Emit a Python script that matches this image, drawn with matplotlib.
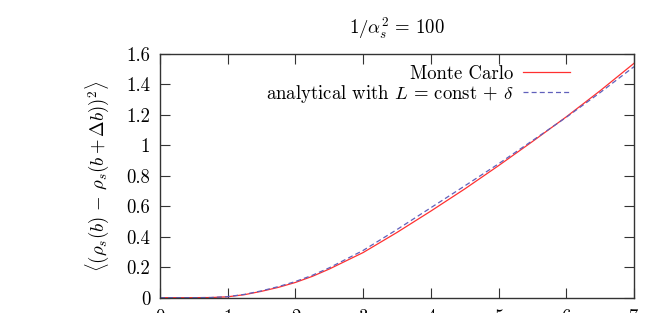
import matplotlib
matplotlib.use("Agg")
import matplotlib.pyplot as plt
import numpy as np

plt.rcParams['font.family'] = 'serif'
plt.rcParams['font.serif'] = ['cmr10', 'DejaVu Serif']
plt.rcParams['mathtext.fontset'] = 'cm'
plt.rcParams['axes.formatter.use_mathtext'] = True

# values
b = [0, 0.5, 0.75, 1.0, 1.25, 1.5, 1.75, 2.0, 2.25, 2.5, 3.0, 3.5, 4.0, 4.5, 5.0, 5.5, 6.0, 6.5, 7.0]
monte_carlo = [0, 0.0003, 0.001, 0.006, 0.02, 0.042, 0.068, 0.10, 0.14, 0.188, 0.296, 0.428, 0.568,
               0.713, 0.866, 1.024, 1.186, 1.357, 1.537]
analytical = [0, 0.0003, 0.0012, 0.007, 0.022, 0.045, 0.073, 0.106, 0.147, 0.196, 0.31, 0.447, 0.59,
              0.733, 0.878, 1.03, 1.183, 1.345, 1.515]

xticks = [0, 1, 2, 3, 4, 5, 6, 7]
yticks = [0, 0.2, 0.4, 0.6, 0.8, 1.0, 1.2, 1.4, 1.6]
ytick_labels = ['0', '0.2', '0.4', '0.6', '0.8', '1', '1.2', '1.4', '1.6']

fig = plt.figure(figsize=(6.64, 3.13), dpi=100)
ax = fig.add_axes([160 / 664, (313 - 297.7) / 313, 474 / 664, 244 / 313])

ax.plot(b, monte_carlo, color='#ff3030', lw=0.9, label='Monte Carlo')
ax.plot(b, analytical, color='#6060bb', lw=0.9, ls=(0, (4, 2.5)),
        label=r'analytical with $L\,=\,\mathrm{const}\,+\,\delta$')

ax.set_xlim(0, 7)
ax.set_ylim(0, 1.6)
ax.set_xticks(xticks)
ax.set_xticklabels([str(t) for t in xticks])
ax.set_yticks(yticks)
ax.set_yticklabels(ytick_labels)
ax.tick_params(direction='in', length=7, width=0.8, top=True, right=True,
               labelsize=13.5, color='#333333')
ax.tick_params(axis='x', pad=8)
ax.tick_params(axis='y', pad=7)
for s in ax.spines.values():
    s.set_linewidth(1.0)
    s.set_color('#333333')

ax.set_title(r'$1/\alpha_s^2\,=\,100$', fontsize=13.5, pad=14)
ax.set_ylabel(r'$\langle(\rho_s(b)\,-\,\rho_s(b+\Delta b))^2\rangle$', fontsize=13.5, labelpad=11)

ax.legend(loc='upper right', bbox_to_anchor=(0.88, 0.985), frameon=False, fontsize=13.5,
          markerfirst=False, handlelength=2.5, handletextpad=0.5,
          labelspacing=0.0, borderaxespad=0.0)
for t in ax.get_legend().get_texts():
    t.set_ha('right')

fig.savefig('out.png', dpi=100)
